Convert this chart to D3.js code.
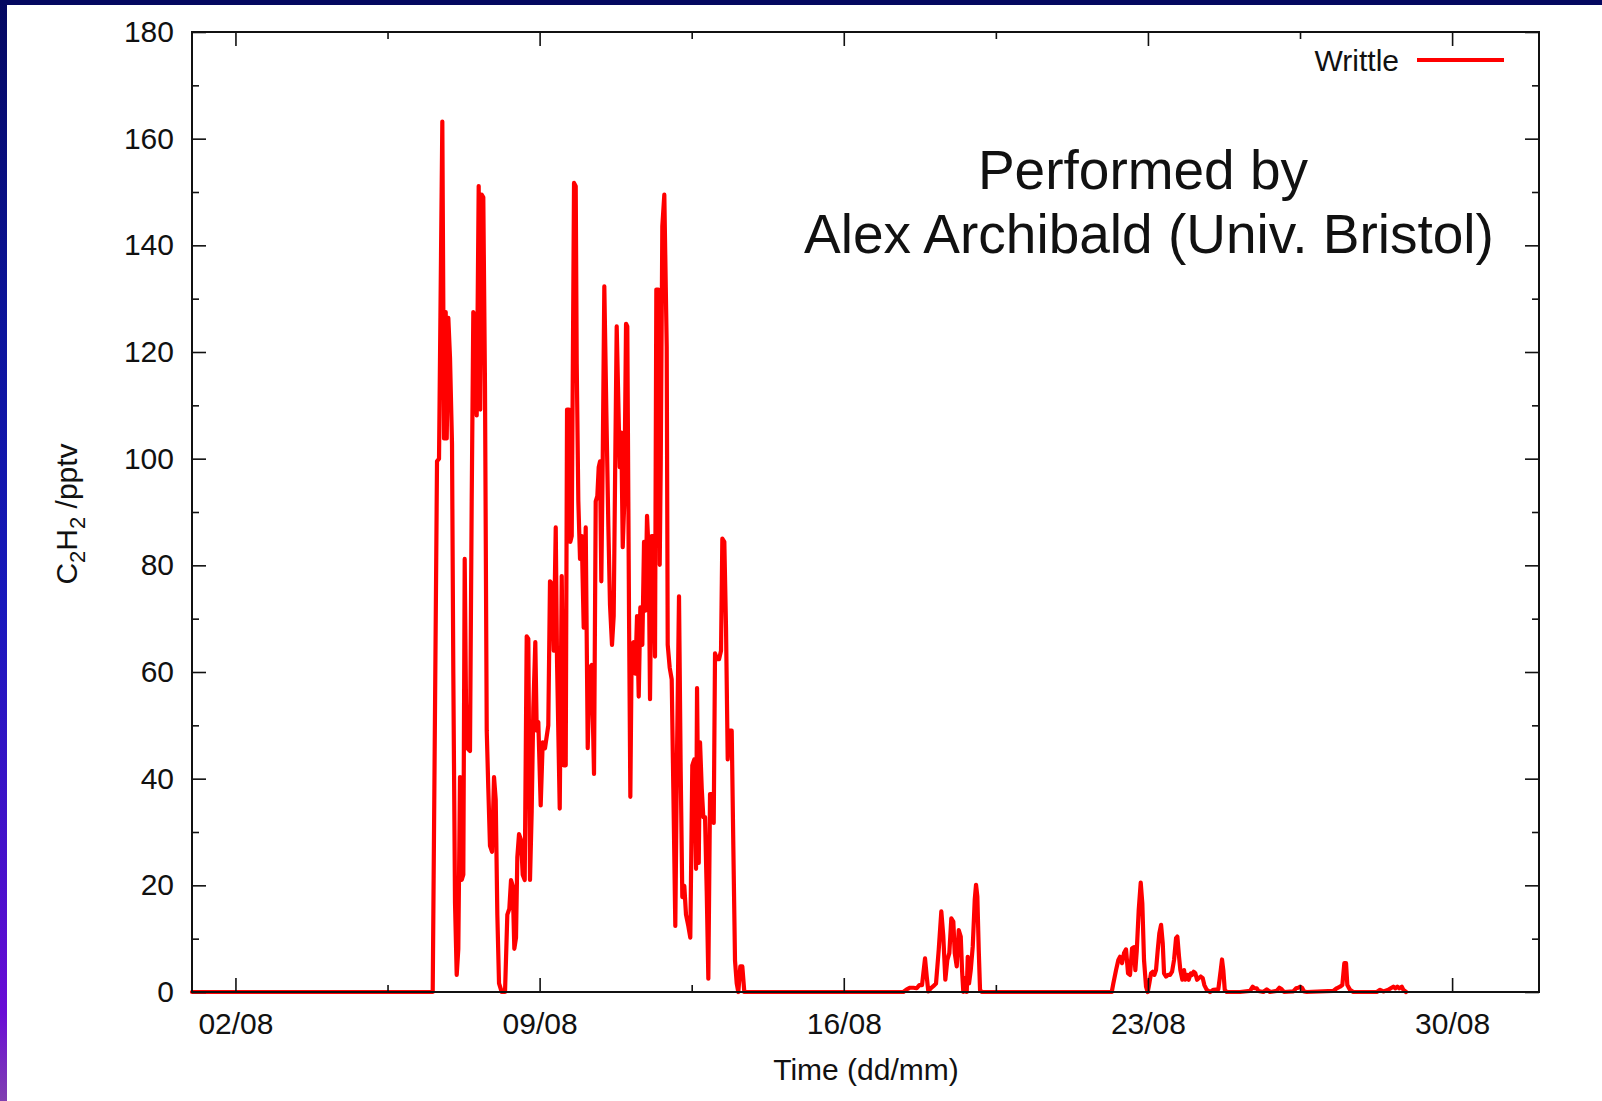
<!DOCTYPE html>
<html>
<head>
<meta charset="utf-8">
<script src="https://cdn.jsdelivr.net/npm/d3@7"></script>
<style>
  html, body { margin: 0; padding: 0; background: #ffffff; }
  svg { display: block; }
  text { font-family: "Liberation Sans", Arial, Helvetica, sans-serif; fill: #111; }
</style>
</head>
<body>
<svg id="chart" width="1602" height="1101"></svg>
<script>
// Acetylene mixing ratio at Writtle, August (time as decimal day of month)
const seriesName = "Writtle";

const days = [
  1.000, 6.478, 6.540, 6.639, 6.685, 6.761, 6.800, 6.839, 6.862, 6.899, 6.938, 6.984,
  7.014, 7.053, 7.092, 7.129, 7.168, 7.207, 7.244, 7.276, 7.306, 7.336, 7.398, 7.437,
  7.474, 7.513, 7.552, 7.598, 7.635, 7.667, 7.704, 7.743, 7.783, 7.819, 7.858, 7.905,
  7.951, 7.990, 8.027, 8.066, 8.128, 8.204, 8.257, 8.303, 8.342, 8.381, 8.418, 8.457,
  8.487, 8.526, 8.572, 8.611, 8.657, 8.703, 8.740, 8.779, 8.818, 8.855, 8.901, 8.933,
  8.970, 9.025, 9.071, 9.124, 9.200, 9.239, 9.292, 9.325, 9.371, 9.401, 9.463, 9.509,
  9.555, 9.601, 9.631, 9.677, 9.707, 9.739, 9.792, 9.831, 9.854, 9.891, 9.930, 9.969,
  10.015, 10.061, 10.107, 10.153, 10.199, 10.252, 10.291, 10.328, 10.360, 10.390, 10.420, 10.452,
  10.489, 10.535, 10.581, 10.620, 10.666, 10.705, 10.742, 10.774, 10.804, 10.844, 10.880, 10.913,
  10.949, 10.989, 11.018, 11.058, 11.088, 11.120, 11.166, 11.203, 11.242, 11.281, 11.318, 11.364,
  11.403, 11.433, 11.472, 11.511, 11.541, 11.580, 11.617, 11.656, 11.686, 11.732, 11.764, 11.787,
  11.824, 11.870, 11.925, 11.948, 11.994, 12.040, 12.077, 12.123, 12.162, 12.208, 12.247, 12.284,
  12.330, 12.369, 12.422, 12.468, 12.514, 12.560, 12.600, 12.623, 12.662, 12.692, 12.731, 12.768,
  12.807, 12.846, 12.883, 12.922, 12.968, 13.007, 13.037, 13.083, 13.129, 13.175, 13.205, 13.251,
  13.290, 13.329, 13.366, 13.421, 13.458, 13.497, 13.536, 13.573, 13.619, 13.665, 13.711, 13.767,
  17.371, 17.449, 17.525, 17.601, 17.679, 17.739, 17.801, 17.870, 17.909, 17.946, 18.001, 18.061,
  18.123, 18.185, 18.245, 18.291, 18.337, 18.383, 18.429, 18.475, 18.521, 18.554, 18.600, 18.646,
  18.692, 18.722, 18.751, 18.791, 18.830, 18.853, 18.883, 18.922, 18.968, 19.014, 19.044, 19.074,
  19.106, 19.136, 19.175,
  22.167, 22.204, 22.266, 22.319, 22.358, 22.404, 22.450, 22.496, 22.542, 22.588, 22.634, 22.680,
  22.710, 22.742, 22.788, 22.834, 22.871, 22.910, 22.956, 22.995, 23.032, 23.071, 23.111, 23.147,
  23.186, 23.226, 23.262, 23.302, 23.341, 23.371, 23.417, 23.463, 23.509, 23.555, 23.601, 23.647,
  23.677, 23.716, 23.746, 23.792, 23.831, 23.861, 23.907, 23.939, 23.985, 24.015, 24.054, 24.091,
  24.130, 24.169, 24.215, 24.261, 24.298, 24.353, 24.429, 24.505, 24.620, 24.676, 24.705, 24.735,
  24.768, 24.814, 25.120, 25.350, 25.412, 25.449, 25.504, 25.541, 25.656, 25.734, 25.810, 25.964,
  26.024, 26.079, 26.132, 26.346, 26.409, 26.461, 26.501, 26.547, 26.593, 26.655, 27.267, 27.345,
  27.421, 27.474, 27.520, 27.559, 27.589, 27.651, 27.727, 28.266, 28.342, 28.418, 28.533, 28.588,
  28.648, 28.694, 28.740, 28.786, 28.842, 28.879, 28.940
];

const c2h2 = [
  0, 0, 0, 99.5, 100, 163.2, 103.8, 127.5, 103.8, 126.4, 118.9, 102.7,
  59.7, 16.7, 3.2, 8.1, 40.3, 21, 22, 81.2, 54.3, 45.7, 45.2, 92,
  127.5, 126.4, 108.1, 151.1, 109.2, 149.5, 149, 113.5, 49, 38.2, 27.4, 26.3,
  40.3, 36, 14.5, 1.6, 0, 0, 14.5, 15.6, 21, 19.9, 8.1, 10.2,
  25.3, 29.6, 28.5, 22, 21, 66.7, 66.2, 21, 33.9, 53.2, 65.6, 49,
  50.6, 35, 46.8, 45.7, 50, 77, 76.4, 64, 87.1, 61.9, 34.4, 78,
  42.5, 42.5, 109.2, 109.2, 84.4, 85.5, 151.7, 151.1, 117.8, 92, 81.2, 85.5,
  68.3, 87.1, 45.7, 60.8, 61.3, 40.9, 92, 93, 98.4, 99.5, 77, 99.5,
  132.3, 109.2, 87.7, 72.6, 65.1, 70.5, 100.6, 124.8, 113.5, 98.4, 104.9, 83.4,
  92, 125.3, 124.8, 70.5, 36.6, 65.1, 65.6, 59.7, 70.5, 55.4, 72.1, 65.1,
  84.4, 71.5, 89.3, 82.3, 54.9, 85.5, 85.5, 62.9, 131.7, 131.7, 80.1, 98.4,
  143.6, 149.5, 121, 65.1, 60.8, 58.6, 38.2, 12.4, 44.6, 74.2, 41.4, 17.8,
  19.9, 14.5, 12.4, 10.2, 42.5, 43.6, 23.1, 57, 24.2, 46.8, 38.2, 32.8,
  32.8, 18.8, 2.5, 37.1, 37.1, 31.7, 63.5, 62.4, 62.4, 64, 85, 84.4,
  68.3, 43.6, 49, 49, 27.4, 5.9, 1.6, 0, 4.8, 4.8, 0, 0,
  0, 0.5, 0.8, 0.8, 0.7, 1.3, 1.3, 6.3, 2.9, 0.1, 0.7, 1.1,
  1.6, 7.9, 15.1, 10.4, 2.3, 6, 7.3, 13.8, 13.2, 7.3, 4.8, 11.6,
  10.4, 4.1, 0, 2.6, 0, 6.6, 1.6, 4.1, 8.5, 17.3, 20.1, 17.9,
  7.9, 0.4, 0,
  0, 1.6, 4.1, 6, 6.6, 5.4, 7.3, 8, 3.5, 3.2, 8.2, 8.4,
  4.1, 7.6, 15.4, 20.5, 16.6, 6, 1, 0, 1.6, 3.5, 3.8, 3.2,
  4.1, 7.9, 11, 12.6, 9.1, 3.5, 2.9, 3.2, 3.2, 3.8, 6, 10.1,
  10.4, 6.6, 4.1, 2.3, 4.1, 2.3, 3.2, 2.3, 3.5, 3.2, 3.8, 3.5,
  2.3, 2.6, 2.9, 2.6, 1.3, 0.4, 0, 0.4, 0.5, 4.1, 6.1, 4.1,
  0.4, 0, 0, 0.2, 1, 0.7, 0.7, 0.2, 0, 0.5, 0, 0.2,
  0.8, 0.5, 0, 0.1, 0.7, 0.8, 1, 0.8, 0.1, 0, 0.2, 0.7,
  1, 1.3, 5.4, 5.4, 1.3, 0.4, 0, 0, 0.4, 0.1, 0.4, 0.7,
  1, 0.7, 1, 0.7, 1, 0.4, 0
];

// Axis ticks
const xTickLabels = ["02/08", "09/08", "16/08", "23/08", "30/08"];
const xTickDays = [2, 9, 16, 23, 30];
const xMinorDays = [5.5, 12.5, 19.5, 26.5];
const yTicks = [0, 20, 40, 60, 80, 100, 120, 140, 160, 180];
const yMinorTicks = [10, 30, 50, 70, 90, 110, 130, 150, 170];

const xTitle = "Time (dd/mm)";
const creditLines = ["Performed by", "Alex Archibald (Univ. Bristol)"];

// ---------------------------------------------------------------
const svg = d3.select("#chart");
const W = 1602, H = 1101;
const plot = { left: 192, right: 1539, top: 32, bottom: 992 };

const t0 = Date.UTC(2003, 7, 1);
const toDate = d => new Date(t0 + (d - 1) * 864e5);

const x = d3.scaleUtc().domain([toDate(1), toDate(32)]).range([plot.left, plot.right]);
const y = d3.scaleLinear().domain([0, 180]).range([plot.bottom, plot.top]);

// Slide backdrop: white page with a dark frame strip on top and a gradient strip on the left
const defs = svg.append("defs");
const grad = defs.append("linearGradient").attr("id", "sideGrad")
  .attr("x1", 0).attr("y1", 0).attr("x2", 0).attr("y2", 1);
[["0%", "#040860"], ["30%", "#0c149c"], ["55%", "#1818bc"], ["80%", "#4a10cc"],
 ["92%", "#6a0cd6"], ["100%", "#8040b0"]].forEach(([o, c]) =>
  grad.append("stop").attr("offset", o).attr("stop-color", c));

svg.append("rect").attr("width", W).attr("height", H).attr("fill", "#ffffff");
svg.append("rect").attr("x", 0).attr("y", 0).attr("width", W).attr("height", 5).attr("fill", "#040860");
svg.append("rect").attr("x", 0).attr("y", 0).attr("width", 7).attr("height", H).attr("fill", "url(#sideGrad)");

// Data line
const series = days.map((d, i) => ({ t: toDate(d), v: c2h2[i] }));
const line = d3.line().x(d => x(d.t)).y(d => y(d.v));

svg.append("path")
  .datum(series)
  .attr("d", line)
  .attr("fill", "none")
  .attr("stroke", "#ff0000")
  .attr("stroke-width", 4.2)
  .attr("stroke-linejoin", "round")
  .attr("stroke-linecap", "round");

// Axes with inward ticks on all four sides
function styleAxis(g) {
  g.select(".domain").remove();
  g.attr("font-family", null).attr("font-size", null);
  g.selectAll(".tick line").attr("stroke", "#111").attr("stroke-width", 1.6);
  g.selectAll(".tick text").attr("font-size", 30).attr("fill", "#111");
}

const majorDates = xTickDays.map(toDate);
const minorDates = xMinorDays.map(toDate);

svg.append("g").attr("transform", `translate(0,${plot.bottom})`)
  .call(d3.axisBottom(x).tickValues(majorDates)
    .tickFormat((d, i) => xTickLabels[i])
    .tickSizeInner(-14).tickSizeOuter(0).tickPadding(21))
  .call(styleAxis);
svg.append("g").attr("transform", `translate(0,${plot.bottom})`)
  .call(d3.axisBottom(x).tickValues(minorDates).tickFormat("")
    .tickSizeInner(-7).tickSizeOuter(0))
  .call(styleAxis);
svg.append("g").attr("transform", `translate(0,${plot.top})`)
  .call(d3.axisTop(x).tickValues(majorDates).tickFormat("")
    .tickSizeInner(-14).tickSizeOuter(0))
  .call(styleAxis);
svg.append("g").attr("transform", `translate(0,${plot.top})`)
  .call(d3.axisTop(x).tickValues(minorDates).tickFormat("")
    .tickSizeInner(-7).tickSizeOuter(0))
  .call(styleAxis);

svg.append("g").attr("transform", `translate(${plot.left},0)`)
  .call(d3.axisLeft(y).tickValues(yTicks).tickFormat(d3.format("d"))
    .tickSizeInner(-14).tickSizeOuter(0).tickPadding(18))
  .call(styleAxis);
svg.append("g").attr("transform", `translate(${plot.left},0)`)
  .call(d3.axisLeft(y).tickValues(yMinorTicks).tickFormat("")
    .tickSizeInner(-7).tickSizeOuter(0))
  .call(styleAxis);
svg.append("g").attr("transform", `translate(${plot.right},0)`)
  .call(d3.axisRight(y).tickValues(yTicks).tickFormat("")
    .tickSizeInner(-14).tickSizeOuter(0))
  .call(styleAxis);
svg.append("g").attr("transform", `translate(${plot.right},0)`)
  .call(d3.axisRight(y).tickValues(yMinorTicks).tickFormat("")
    .tickSizeInner(-7).tickSizeOuter(0))
  .call(styleAxis);

// Plot frame
svg.append("rect")
  .attr("x", plot.left).attr("y", plot.top)
  .attr("width", plot.right - plot.left).attr("height", plot.bottom - plot.top)
  .attr("fill", "none").attr("stroke", "#111").attr("stroke-width", 2);

// Axis titles
svg.append("text")
  .attr("x", 866).attr("y", 1080)
  .attr("text-anchor", "middle").attr("font-size", 30)
  .text(xTitle);

const yTitle = svg.append("text")
  .attr("transform", "translate(77,514) rotate(-90)")
  .attr("text-anchor", "middle").attr("font-size", 30);
yTitle.append("tspan").text("C");
yTitle.append("tspan").attr("dy", 8).attr("font-size", 22).text("2");
yTitle.append("tspan").attr("dy", -8).text("H");
yTitle.append("tspan").attr("dy", 8).attr("font-size", 22).text("2");
yTitle.append("tspan").attr("dy", -8).text(" /pptv");

// Legend
svg.append("text")
  .attr("x", 1399).attr("y", 71)
  .attr("text-anchor", "end").attr("font-size", 30)
  .text(seriesName);
svg.append("line")
  .attr("x1", 1417).attr("x2", 1504).attr("y1", 60).attr("y2", 60)
  .attr("stroke", "#ff0000").attr("stroke-width", 4.2);

// Credit annotation
svg.append("text")
  .attr("x", 1143).attr("y", 189)
  .attr("text-anchor", "middle").attr("font-size", 55).attr("fill", "#000")
  .text(creditLines[0]);
svg.append("text")
  .attr("x", 1149).attr("y", 253)
  .attr("text-anchor", "middle").attr("font-size", 55).attr("fill", "#000")
  .text(creditLines[1]);
</script>
</body>
</html>
